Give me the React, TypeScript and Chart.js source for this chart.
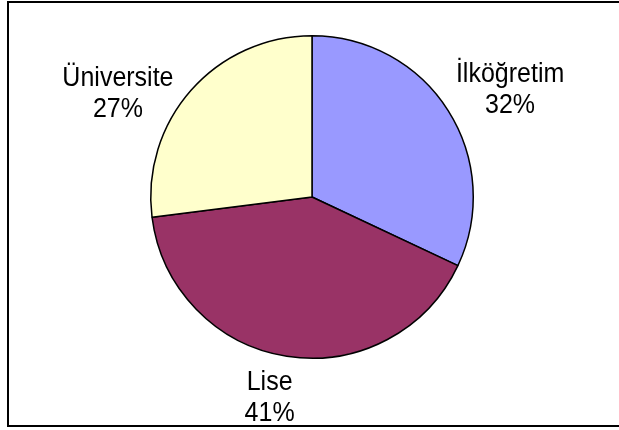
import React, { useEffect, useRef } from "react";
import { Chart, registerables } from "chart.js";

Chart.register(...registerables);

const categories = ["İlköğretim", "Lise", "Üniversite"];
const values = [32, 41, 27];
const sliceColors = ["#9999FF", "#993366", "#FFFFCC"];

// label placement relative to each slice (angle nudge in degrees, distance as multiple of radius)
const labelPlacement = [
  { delta: 3.0, factor: 1.41 },
  { delta: 3.2, factor: 1.244 },
  { delta: -12.4, factor: 1.376 },
];

const FONT = '25px "Liberation Sans", Arial, sans-serif';

const framePlugin = {
  id: "frame",
  beforeDraw(chart: any) {
    const ctx = chart.ctx;
    ctx.save();
    ctx.fillStyle = "#ffffff";
    ctx.fillRect(0, 0, chart.width, chart.height);
    ctx.strokeStyle = "#000000";
    ctx.lineWidth = 2;
    ctx.strokeRect(8, 2, chart.width + 10, 424);
    ctx.restore();
  },
};

function drawStretched(ctx: CanvasRenderingContext2D, text: string, x: number, y: number) {
  ctx.save();
  ctx.translate(x, y);
  ctx.scale(1, 1.09);
  ctx.fillText(text, 0, 0);
  ctx.restore();
}

const labelPlugin = {
  id: "pieLabels",
  afterDatasetsDraw(chart: any) {
    const meta = chart.getDatasetMeta(0);
    const ctx = chart.ctx;
    const data = chart.data.datasets[0].data as number[];
    const total = data.reduce((a, b) => a + b, 0);
    ctx.save();
    ctx.font = FONT;
    ctx.fillStyle = "#000000";
    ctx.textAlign = "center";
    ctx.textBaseline = "alphabetic";
    meta.data.forEach((arc: any, i: number) => {
      const { x, y, startAngle, endAngle, outerRadius } = arc.getProps(
        ["x", "y", "startAngle", "endAngle", "outerRadius"],
        true
      );
      const p = labelPlacement[i];
      const a = (startAngle + endAngle) / 2 + (p.delta * Math.PI) / 180;
      const lx = x + Math.cos(a) * outerRadius * p.factor;
      const ly = y + Math.sin(a) * outerRadius * p.factor;
      const pct = Math.round((data[i] / total) * 100) + "%";
      drawStretched(ctx, chart.data.labels[i], lx, ly - 3);
      drawStretched(ctx, pct, lx, ly + 28);
    });
    ctx.restore();
  },
};

export default function App() {
  const ref = useRef<HTMLCanvasElement | null>(null);
  useEffect(() => {
    if (!ref.current) return;
    const chart = new Chart(ref.current, {
      type: "pie",
      data: {
        labels: categories,
        datasets: [
          {
            data: values,
            backgroundColor: sliceColors,
            borderColor: "#000000",
            borderWidth: 1.5,
            hoverOffset: 0,
          },
        ],
      },
      options: {
        responsive: false,
        animation: false,
        layout: { padding: { top: 35, bottom: 71, left: 150, right: 145 } },
        plugins: {
          legend: { display: false },
          tooltip: { enabled: false },
        },
      },
      plugins: [framePlugin, labelPlugin],
    });
    return () => chart.destroy();
  }, []);
  return (
    <div style={{ position: "absolute", left: 0, top: 0, width: 619, height: 430 }}>
      <canvas ref={ref} width={619} height={430} />
    </div>
  );
}
